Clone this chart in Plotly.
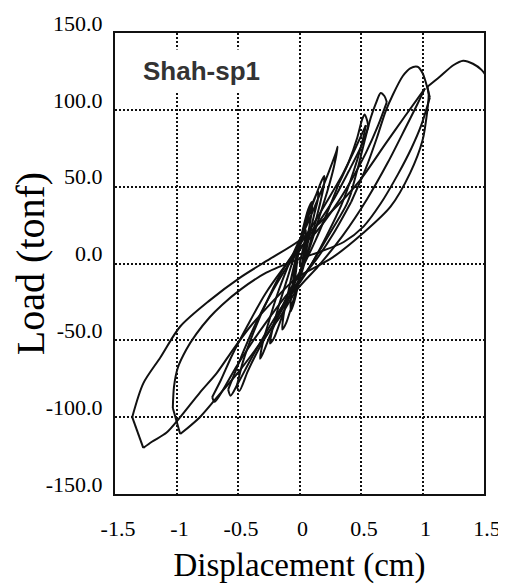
import plotly.graph_objects as go

# ---- data (displacement in cm, load in tonf) ----
# small early cycles (one continuous smooth path)
disp_small = [0, 0.03, 0.05, 0.05, 0.02, -0.01, -0.03, -0.04, -0.04, -0.02, 0.01, 0.04,
              0.08, 0.10, 0.10, 0.07, 0.02, -0.02, -0.05, -0.07, -0.07, -0.04, 0.00, 0.04, 0.08,
              0.12, 0.15, 0.15, 0.12, 0.06, 0.01, -0.04, -0.09, -0.13, -0.14, -0.11, -0.05, 0.01,
              0.07, 0.12,
              0.17, 0.20, 0.20, 0.17, 0.10, 0.03, -0.03, -0.10, -0.17, -0.22, -0.24, -0.21, -0.14,
              -0.06, 0.02, 0.09, 0.16,
              0.23, 0.28, 0.31, 0.30, 0.24, 0.15, 0.06, -0.02, -0.10, -0.18, -0.25, -0.30, -0.32,
              -0.30, -0.23, -0.14, -0.05, 0.04, 0.13, 0.23, 0.32]
load_small = [0, 10, 18, 22, 16, 6, -6, -13, -18, -14, -4, 8,
              24, 34, 40, 35, 20, 6, -10, -22, -31, -24, -10, 3, 18,
              32, 42, 47, 42, 29, 15, 0, -18, -34, -43, -39, -24, -8,
              8, 24,
              40, 52, 57, 52, 37, 21, 8, -10, -28, -43, -52, -49, -34,
              -17, -2, 12, 30,
              48, 63, 76, 73, 60, 42, 25, 12, -3, -20, -38, -52, -62,
              -59, -45, -28, -13, 0, 15, 34, 52]

# cycle to ~0.5 cm
disp_f_load = [0.32, 0.40, 0.47, 0.51, 0.53, 0.55, 0.56]
load_f_load = [52, 66, 82, 94, 97, 93, 89]
disp_f_unload = [0.56, 0.50, 0.40, 0.28, 0.15, 0.03, -0.10, -0.22, -0.35, -0.46, -0.53, -0.58]
load_f_unload = [89, 76, 60, 42, 26, 12, -2, -18, -38, -58, -72, -82]
disp_f_reload = [-0.58, -0.56, -0.50, -0.40, -0.28, -0.15, -0.03, 0.10, 0.22, 0.34, 0.44, 0.50, 0.53, 0.54]
load_f_reload = [-82, -86, -78, -63, -46, -29, -15, 0, 18, 38, 60, 76, 86, 90]

# repeat cycle near 0.5 cm
disp_f2_unload = [0.54, 0.46, 0.35, 0.22, 0.10, 0.00, -0.12, -0.25, -0.37, -0.46, -0.51]
load_f2_unload = [90, 76, 58, 40, 24, 12, -2, -22, -44, -64, -80]
disp_f2_reload = [-0.51, -0.49, -0.42, -0.32, -0.20, -0.08, 0.04, 0.16, 0.28, 0.38, 0.42]
load_f2_reload = [-80, -83, -70, -54, -38, -22, -8, 8, 24, 38, 46]

# cycle to ~0.7 cm
disp_g_load = [0.42, 0.48, 0.53, 0.58, 0.62, 0.66, 0.69, 0.71]
load_g_load = [46, 64, 80, 95, 104, 111, 109, 105]
disp_g_unload = [0.71, 0.64, 0.54, 0.42, 0.28, 0.13, 0.00, -0.14, -0.28, -0.42, -0.55, -0.64, -0.71]
load_g_unload = [105, 90, 72, 54, 36, 20, 10, -4, -20, -40, -60, -76, -87]
disp_g_reload = [-0.71, -0.69, -0.62, -0.52, -0.40, -0.26, -0.12, 0.00, 0.14, 0.28, 0.42]
load_g_reload = [-87, -90, -82, -68, -53, -37, -22, -11, 3, 20, 40]

# cycle to ~1.0 cm
disp_h_load = [0.42, 0.54, 0.63, 0.70, 0.76, 0.84, 0.90, 0.96, 1.00, 1.03, 1.06]
load_h_load = [40, 62, 82, 99, 110, 122, 127, 128, 124, 117, 108]
disp_h_unload = [1.06, 0.99, 0.91, 0.80, 0.66, 0.52, 0.36, 0.18, 0.00, -0.27, -0.48, -0.63, -0.73,
                 -0.84, -0.92, -0.99, -1.02, -1.03]
load_h_unload = [108, 90, 75, 58, 39, 24, 14, 8, 3, -6, -17, -27, -35,
                 -46, -56, -68, -80, -94]
disp_h_drop = [-1.03, -0.97]
load_h_drop = [-94, -111]

# repeat to ~1.0 cm, then to ~-1.35 cm
disp_i_reload = [-0.97, -0.81, -0.67, -0.48, -0.32, -0.16, -0.02, 0.15, 0.35, 0.55, 0.72, 0.86, 0.96, 1.02]
load_i_reload = [-111, -100, -87, -69, -52, -35, -17, -2, 18, 42, 66, 88, 104, 114]
disp_i_unload = [1.02, 0.85, 0.70, 0.49, 0.25, 0.00, -0.24, -0.48, -0.73, -0.97, -1.13, -1.27, -1.36]
load_i_unload = [114, 95, 78, 54, 33, 15, 3, -9, -24, -41, -61, -78, -100]
disp_i_drop = [-1.36, -1.27]
load_i_drop = [-100, -120]

# final loading past 1.5 cm
disp_j_reload = [-1.27, -1.20, -1.08, -0.97, -0.81, -0.67, -0.54, -0.40, -0.21, -0.05, 0.00, 0.27,
                 0.52, 0.74, 0.90, 1.00, 1.04, 1.05, 1.04]
load_j_reload = [-120, -116, -110, -100, -84, -71, -56, -41, -24, -11, -8, 4,
                 20, 37, 59, 80, 100, 110, 115]
disp_j_final = [1.04, 1.14, 1.25, 1.33, 1.41, 1.48, 1.55]
load_j_final = [115, 121.5, 129, 132, 130, 126, 118]

x_ticks = [-1.5, -1, -0.5, 0, 0.5, 1, 1.5]
x_labels = ["-1.5", "-1", "-0.5", "0", "0.5", "1", "1.5"]
y_ticks = [-150, -100, -50, 0, 50, 100, 150]
y_labels = ["-150.0", "-100.0", "-50.0", "0.0", "50.0", "100.0", "150.0"]

specimen = "Shah-sp1"

branches = [
    (disp_small, load_small),
    (disp_f_load, load_f_load), (disp_f_unload, load_f_unload), (disp_f_reload, load_f_reload),
    (disp_f2_unload, load_f2_unload), (disp_f2_reload, load_f2_reload),
    (disp_g_load, load_g_load), (disp_g_unload, load_g_unload), (disp_g_reload, load_g_reload),
    (disp_h_load, load_h_load), (disp_h_unload, load_h_unload), (disp_h_drop, load_h_drop),
    (disp_i_reload, load_i_reload), (disp_i_unload, load_i_unload), (disp_i_drop, load_i_drop),
    (disp_j_reload, load_j_reload), (disp_j_final, load_j_final),
]

fig = go.Figure()
for bx, by in branches:
    fig.add_trace(go.Scatter(
        x=bx, y=by, mode="lines",
        line=dict(color="#111111", width=2, shape="spline", smoothing=0.8),
        hoverinfo="skip",
    ))

serif = "Liberation Serif, Times New Roman, serif"

fig.update_xaxes(
    range=[-1.5, 1.5], tickvals=x_ticks, ticktext=x_labels,
    showgrid=True, gridcolor="#111111", gridwidth=1.6, griddash="2px,2px",
    showline=True, linecolor="#111111", linewidth=2, mirror=True,
    zeroline=False, ticks="", ticklabelstandoff=14, ticklabelshift=3,
    tickfont=dict(family=serif, size=22, color="#000000"),
    title=dict(text="Displacement (cm)", font=dict(family=serif, size=33, color="#000000"),
               standoff=12),
    automargin=False,
)
fig.update_yaxes(
    range=[-150, 150], tickvals=y_ticks, ticktext=y_labels,
    showgrid=True, gridcolor="#111111", gridwidth=1.6, griddash="2px,2px",
    showline=True, linecolor="#111111", linewidth=2, mirror=True,
    zeroline=False, ticks="", ticklabelstandoff=6, ticklabelshift=-10,
    tickfont=dict(family=serif, size=22, color="#000000"),
    title=dict(text="Load (tonf)", font=dict(family=serif, size=40, color="#000000"),
               standoff=0),
    automargin=False,
)

fig.add_annotation(
    x=0.057, y=0.918, xref="paper", yref="paper", xanchor="left", yanchor="middle",
    text="<b>" + specimen + "</b>", showarrow=False,
    font=dict(family="Liberation Sans, Arial, sans-serif", size=26, color="#333333"),
    bgcolor="white", borderpad=6,
)

# the page adds an 8px body margin, so the figure is sized to fit the window
fig.update_layout(
    width=498, height=578,
    margin=dict(l=107, r=22, t=25, b=92),
    plot_bgcolor="white", paper_bgcolor="white",
    showlegend=False,
)

fig.write_html("out.html")
